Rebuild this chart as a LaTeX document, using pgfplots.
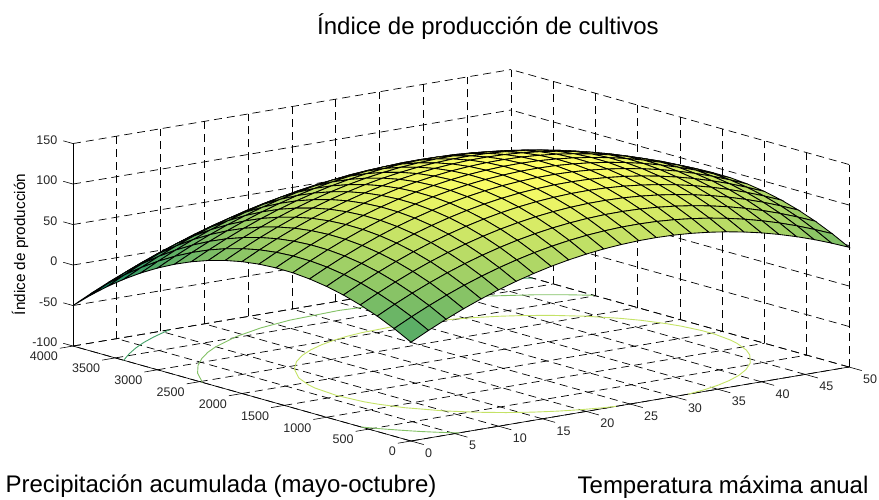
\documentclass[border=0pt]{standalone}
\usepackage{fontspec}
\setmainfont{Liberation Sans}
\usepackage{pgfplots}
\pgfplotsset{compat=1.18}
\definecolor{lvA}{rgb}{0.256,0.628,0.4}
\definecolor{lvB}{rgb}{0.513,0.756,0.4}
\definecolor{lvC}{rgb}{0.77,0.885,0.4}
\begin{document}
\begin{tikzpicture}[x=1pt,y=1pt]
\useasboundingbox (0,0) rectangle (879,499);
\begin{axis}[
  at={(411pt,139pt)},anchor=origin,
  x={(8.76pt,1.48pt)},y={(-0.0845pt,0.02375pt)},z={(0pt,0.81pt)},
  xmin=0,xmax=50,ymin=0,ymax=4000,zmin=-100,zmax=150,
  xtick={0,5,...,50},ytick={0,500,...,4000},ztick={-100,-50,...,150},
  scaled ticks=false,
  /pgf/number format/assume math mode=true,
  /pgf/number format/1000 sep={},
  grid=major,
  grid style={black,line width=0.7pt,dash pattern=on 8pt off 5pt},
  axis line style={draw=none},
  major tick length=0pt,
  tick style={draw=none},
  xtick pos=left,ytick pos=left,ztick pos=left,
  tick label style={font=\fontsize{12.5}{15}\selectfont,inner sep=0pt,text=black!85},
  xticklabel style={anchor=west,xshift=14pt,yshift=-12pt},
  yticklabel style={anchor=east,xshift=-15pt,yshift=-10.5pt},
  zticklabel style={anchor=east,xshift=-15.5pt,yshift=3.5pt},
  colormap={summer}{rgb=(0,0.5,0.4) rgb=(1,1,0.4)},
  point meta min=-30,point meta max=145,
  clip=false,
  unbounded coords=jump,
  title={Índice de producción de cultivos},
  title style={at={(axis cs:8.79,0,388.5)},anchor=center,yshift=0pt,font=\fontsize{24}{28}\selectfont},
  xlabel={Temperatura máxima anual},
  xlabel style={at={(axis cs:35.62,0,-230)},anchor=base,rotate=0,font=\fontsize{24}{28}\selectfont},
  ylabel={Precipitación acumulada (mayo-octubre)},
  ylabel style={at={(axis cs:0,2248,-229.4)},anchor=base,rotate=0,font=\fontsize{24}{28}\selectfont},
  zlabel={Índice de producción},
  zlabel style={at={(axis cs:0,4627,7)},anchor=center,rotate=0,font=\fontsize{15.3}{18}\selectfont},
]
\addplot3[black,line width=0.65pt] coordinates {(0,0,-100)(50,0,-100)};
\addplot3[black,line width=0.65pt] coordinates {(0,0,-100)(0,4000,-100)};
\addplot3[black,line width=0.65pt] coordinates {(0,4000,-100)(0,4000,150)};
% tick marks along the third direction, as on the reference
\addplot3[black,line width=0.6pt] coordinates {(0,0,-100)(0,-150,-100)(nan,nan,nan)(5,0,-100)(5,-150,-100)(nan,nan,nan)(10,0,-100)(10,-150,-100)(nan,nan,nan)(15,0,-100)(15,-150,-100)(nan,nan,nan)(20,0,-100)(20,-150,-100)(nan,nan,nan)(25,0,-100)(25,-150,-100)(nan,nan,nan)(30,0,-100)(30,-150,-100)(nan,nan,nan)(35,0,-100)(35,-150,-100)(nan,nan,nan)(40,0,-100)(40,-150,-100)(nan,nan,nan)(45,0,-100)(45,-150,-100)(nan,nan,nan)(50,0,-100)(50,-150,-100)};
\addplot3[black,line width=0.6pt] coordinates {(0,0,-100)(-1.5,0,-100)(nan,nan,nan)(0,500,-100)(-1.5,500,-100)(nan,nan,nan)(0,1000,-100)(-1.5,1000,-100)(nan,nan,nan)(0,1500,-100)(-1.5,1500,-100)(nan,nan,nan)(0,2000,-100)(-1.5,2000,-100)(nan,nan,nan)(0,2500,-100)(-1.5,2500,-100)(nan,nan,nan)(0,3000,-100)(-1.5,3000,-100)(nan,nan,nan)(0,3500,-100)(-1.5,3500,-100)(nan,nan,nan)(0,4000,-100)(-1.5,4000,-100)};
\addplot3[black,line width=0.6pt] coordinates {(0,4000,-100)(0,4115,-100)(nan,nan,nan)(0,4000,-50)(0,4115,-50)(nan,nan,nan)(0,4000,0)(0,4115,0)(nan,nan,nan)(0,4000,50)(0,4115,50)(nan,nan,nan)(0,4000,100)(0,4115,100)(nan,nan,nan)(0,4000,150)(0,4115,150)};
% contour level 0
\addplot3[lvA,line width=0.9pt] coordinates {(0,3400,-100)(2,3544,-100)(4,3671,-100)(6,3782,-100)(8,3877,-100)(10,3960,-100)(11,4000,-100)};
\addplot3[lvA,line width=0.9pt] coordinates {(44,4000,-100)(46,3950,-100)(48,3860,-100)(50,3745,-100)};
% contour level 50
\addplot3[lvB,line width=0.9pt] coordinates {(0,590,-100)(1,450,-100)(2,330,-100)(3,217,-100)(4,122,-100)(5,37,-100)(5.5,0,-100)};
\addplot3[lvB,line width=0.9pt] coordinates {(0,2468,-100)(2,2733,-100)(4,2935,-100)(6,3098,-100)(8,3235,-100)(10,3347,-100)(14,3522,-100)(18,3643,-100)(22,3717,-100)(28,3755,-100)(34,3702,-100)(38,3618,-100)(42,3483,-100)(46,3293,-100)(48,3170,-100)(50,3022,-100)};
% contour level 100
\addplot3[lvC,line width=0.9pt] coordinates {(23.4,0,-100)(22,24,-100)(20,71,-100)(18,135,-100)(16,218,-100)(14,325,-100)(12,463,-100)(10,644,-100)(8,905,-100)(7,1115,-100)(6.6,1241,-100)(6.25,1531,-100)(6.6,1821,-100)(7,1947,-100)(8,2157,-100)(10,2418,-100)(12,2599,-100)(14,2737,-100)(16,2844,-100)(18,2927,-100)(20,2991,-100)(22,3038,-100)(24,3069,-100)(28,3091,-100)(32,3055,-100)(34,3015,-100)(36,2960,-100)(38,2887,-100)(40,2794,-100)(42,2672,-100)(44,2516,-100)(46,2302,-100)(47,2157,-100)(48,1947,-100)(48.4,1821,-100)(48.75,1611,-100)(48.75,1451,-100)(48.4,1241,-100)(48,1115,-100)(47,905,-100)(46,760,-100)(44,546,-100)(42,390,-100)(40,268,-100)(38,175,-100)(36,102,-100)(34,47,-100)(32,7,-100)(31.6,0,-100)};
\addplot3[surf,shader=faceted,faceted color=black,line width=0.85pt,mesh/rows=21,mesh/cols=26] coordinates {
(0,0,22.0)(2,0,32.9)(4,0,43.0)(6,0,52.3)(8,0,60.8)(10,0,68.4)(12,0,75.2)(14,0,81.2)(16,0,86.4)(18,0,90.7)(20,0,94.2)(22,0,96.9)(24,0,98.7)(26,0,99.8)(28,0,100.0)(30,0,99.4)(32,0,97.9)(34,0,95.6)(36,0,92.5)(38,0,88.6)(40,0,83.9)(42,0,78.3)(44,0,71.9)(46,0,64.7)(48,0,56.6)(50,0,47.8)
(0,200,33.0)(2,200,43.9)(4,200,54.0)(6,200,63.3)(8,200,71.8)(10,200,79.4)(12,200,86.2)(14,200,92.2)(16,200,97.4)(18,200,101.7)(20,200,105.2)(22,200,107.9)(24,200,109.7)(26,200,110.8)(28,200,111.0)(30,200,110.4)(32,200,108.9)(34,200,106.6)(36,200,103.5)(38,200,99.6)(40,200,94.9)(42,200,89.3)(44,200,82.9)(46,200,75.7)(48,200,67.6)(50,200,58.8)
(0,400,42.5)(2,400,53.4)(4,400,63.5)(6,400,72.8)(8,400,81.3)(10,400,88.9)(12,400,95.7)(14,400,101.7)(16,400,106.9)(18,400,111.2)(20,400,114.7)(22,400,117.4)(24,400,119.2)(26,400,120.3)(28,400,120.5)(30,400,119.9)(32,400,118.4)(34,400,116.1)(36,400,113.0)(38,400,109.1)(40,400,104.4)(42,400,98.8)(44,400,92.4)(46,400,85.2)(48,400,77.1)(50,400,68.3)
(0,600,50.4)(2,600,61.3)(4,600,71.4)(6,600,80.7)(8,600,89.2)(10,600,96.8)(12,600,103.6)(14,600,109.6)(16,600,114.8)(18,600,119.1)(20,600,122.6)(22,600,125.3)(24,600,127.1)(26,600,128.2)(28,600,128.4)(30,600,127.8)(32,600,126.3)(34,600,124.0)(36,600,120.9)(38,600,117.0)(40,600,112.3)(42,600,106.7)(44,600,100.3)(46,600,93.1)(48,600,85.0)(50,600,76.2)
(0,800,56.8)(2,800,67.7)(4,800,77.8)(6,800,87.1)(8,800,95.6)(10,800,103.2)(12,800,110.0)(14,800,116.0)(16,800,121.2)(18,800,125.5)(20,800,129.0)(22,800,131.7)(24,800,133.5)(26,800,134.6)(28,800,134.8)(30,800,134.2)(32,800,132.7)(34,800,130.4)(36,800,127.3)(38,800,123.4)(40,800,118.7)(42,800,113.1)(44,800,106.7)(46,800,99.5)(48,800,91.4)(50,800,82.6)
(0,1000,61.6)(2,1000,72.5)(4,1000,82.6)(6,1000,91.9)(8,1000,100.4)(10,1000,108.0)(12,1000,114.8)(14,1000,120.8)(16,1000,126.0)(18,1000,130.3)(20,1000,133.8)(22,1000,136.5)(24,1000,138.3)(26,1000,139.4)(28,1000,139.6)(30,1000,139.0)(32,1000,137.5)(34,1000,135.2)(36,1000,132.1)(38,1000,128.2)(40,1000,123.5)(42,1000,117.9)(44,1000,111.5)(46,1000,104.3)(48,1000,96.2)(50,1000,87.4)
(0,1200,64.9)(2,1200,75.8)(4,1200,85.9)(6,1200,95.2)(8,1200,103.7)(10,1200,111.3)(12,1200,118.1)(14,1200,124.1)(16,1200,129.3)(18,1200,133.6)(20,1200,137.1)(22,1200,139.8)(24,1200,141.6)(26,1200,142.7)(28,1200,142.9)(30,1200,142.3)(32,1200,140.8)(34,1200,138.5)(36,1200,135.4)(38,1200,131.5)(40,1200,126.8)(42,1200,121.2)(44,1200,114.8)(46,1200,107.6)(48,1200,99.5)(50,1200,90.7)
(0,1400,66.7)(2,1400,77.6)(4,1400,87.7)(6,1400,97.0)(8,1400,105.5)(10,1400,113.1)(12,1400,119.9)(14,1400,125.9)(16,1400,131.1)(18,1400,135.4)(20,1400,138.9)(22,1400,141.6)(24,1400,143.4)(26,1400,144.5)(28,1400,144.7)(30,1400,144.1)(32,1400,142.6)(34,1400,140.3)(36,1400,137.2)(38,1400,133.3)(40,1400,128.6)(42,1400,123.0)(44,1400,116.6)(46,1400,109.4)(48,1400,101.3)(50,1400,92.5)
(0,1600,66.9)(2,1600,77.8)(4,1600,87.9)(6,1600,97.2)(8,1600,105.7)(10,1600,113.3)(12,1600,120.1)(14,1600,126.1)(16,1600,131.3)(18,1600,135.6)(20,1600,139.1)(22,1600,141.8)(24,1600,143.6)(26,1600,144.7)(28,1600,144.9)(30,1600,144.3)(32,1600,142.8)(34,1600,140.5)(36,1600,137.4)(38,1600,133.5)(40,1600,128.8)(42,1600,123.2)(44,1600,116.8)(46,1600,109.6)(48,1600,101.5)(50,1600,92.7)
(0,1800,65.6)(2,1800,76.5)(4,1800,86.6)(6,1800,95.9)(8,1800,104.4)(10,1800,112.0)(12,1800,118.8)(14,1800,124.8)(16,1800,130.0)(18,1800,134.3)(20,1800,137.8)(22,1800,140.5)(24,1800,142.3)(26,1800,143.4)(28,1800,143.6)(30,1800,143.0)(32,1800,141.5)(34,1800,139.2)(36,1800,136.1)(38,1800,132.2)(40,1800,127.5)(42,1800,121.9)(44,1800,115.5)(46,1800,108.3)(48,1800,100.2)(50,1800,91.4)
(0,2000,62.8)(2,2000,73.7)(4,2000,83.8)(6,2000,93.1)(8,2000,101.6)(10,2000,109.2)(12,2000,116.0)(14,2000,122.0)(16,2000,127.2)(18,2000,131.5)(20,2000,135.0)(22,2000,137.7)(24,2000,139.5)(26,2000,140.6)(28,2000,140.8)(30,2000,140.2)(32,2000,138.7)(34,2000,136.4)(36,2000,133.3)(38,2000,129.4)(40,2000,124.7)(42,2000,119.1)(44,2000,112.7)(46,2000,105.5)(48,2000,97.4)(50,2000,88.6)
(0,2200,58.4)(2,2200,69.3)(4,2200,79.4)(6,2200,88.7)(8,2200,97.2)(10,2200,104.8)(12,2200,111.6)(14,2200,117.6)(16,2200,122.8)(18,2200,127.1)(20,2200,130.6)(22,2200,133.3)(24,2200,135.1)(26,2200,136.2)(28,2200,136.4)(30,2200,135.8)(32,2200,134.3)(34,2200,132.0)(36,2200,128.9)(38,2200,125.0)(40,2200,120.3)(42,2200,114.7)(44,2200,108.3)(46,2200,101.1)(48,2200,93.0)(50,2200,84.2)
(0,2400,52.5)(2,2400,63.4)(4,2400,73.5)(6,2400,82.8)(8,2400,91.3)(10,2400,98.9)(12,2400,105.7)(14,2400,111.7)(16,2400,116.9)(18,2400,121.2)(20,2400,124.7)(22,2400,127.4)(24,2400,129.2)(26,2400,130.3)(28,2400,130.5)(30,2400,129.9)(32,2400,128.4)(34,2400,126.1)(36,2400,123.0)(38,2400,119.1)(40,2400,114.4)(42,2400,108.8)(44,2400,102.4)(46,2400,95.2)(48,2400,87.1)(50,2400,78.3)
(0,2600,45.1)(2,2600,56.0)(4,2600,66.1)(6,2600,75.4)(8,2600,83.9)(10,2600,91.5)(12,2600,98.3)(14,2600,104.3)(16,2600,109.5)(18,2600,113.8)(20,2600,117.3)(22,2600,120.0)(24,2600,121.8)(26,2600,122.9)(28,2600,123.1)(30,2600,122.5)(32,2600,121.0)(34,2600,118.7)(36,2600,115.6)(38,2600,111.7)(40,2600,107.0)(42,2600,101.4)(44,2600,95.0)(46,2600,87.8)(48,2600,79.7)(50,2600,70.9)
(0,2800,36.1)(2,2800,47.0)(4,2800,57.1)(6,2800,66.4)(8,2800,74.9)(10,2800,82.5)(12,2800,89.3)(14,2800,95.3)(16,2800,100.5)(18,2800,104.8)(20,2800,108.3)(22,2800,111.0)(24,2800,112.8)(26,2800,113.9)(28,2800,114.1)(30,2800,113.5)(32,2800,112.0)(34,2800,109.7)(36,2800,106.6)(38,2800,102.7)(40,2800,98.0)(42,2800,92.4)(44,2800,86.0)(46,2800,78.8)(48,2800,70.7)(50,2800,61.9)
(0,3000,25.6)(2,3000,36.5)(4,3000,46.6)(6,3000,55.9)(8,3000,64.4)(10,3000,72.0)(12,3000,78.8)(14,3000,84.8)(16,3000,90.0)(18,3000,94.3)(20,3000,97.8)(22,3000,100.5)(24,3000,102.3)(26,3000,103.4)(28,3000,103.6)(30,3000,103.0)(32,3000,101.5)(34,3000,99.2)(36,3000,96.1)(38,3000,92.2)(40,3000,87.5)(42,3000,81.9)(44,3000,75.5)(46,3000,68.3)(48,3000,60.2)(50,3000,51.4)
(0,3200,13.6)(2,3200,24.5)(4,3200,34.6)(6,3200,43.9)(8,3200,52.4)(10,3200,60.0)(12,3200,66.8)(14,3200,72.8)(16,3200,78.0)(18,3200,82.3)(20,3200,85.8)(22,3200,88.5)(24,3200,90.3)(26,3200,91.4)(28,3200,91.6)(30,3200,91.0)(32,3200,89.5)(34,3200,87.2)(36,3200,84.1)(38,3200,80.2)(40,3200,75.5)(42,3200,69.9)(44,3200,63.5)(46,3200,56.3)(48,3200,48.2)(50,3200,39.4)
(0,3400,0.0)(2,3400,10.9)(4,3400,21.0)(6,3400,30.3)(8,3400,38.8)(10,3400,46.4)(12,3400,53.2)(14,3400,59.2)(16,3400,64.4)(18,3400,68.7)(20,3400,72.2)(22,3400,74.9)(24,3400,76.7)(26,3400,77.8)(28,3400,78.0)(30,3400,77.4)(32,3400,75.9)(34,3400,73.6)(36,3400,70.5)(38,3400,66.6)(40,3400,61.9)(42,3400,56.3)(44,3400,49.9)(46,3400,42.7)(48,3400,34.6)(50,3400,25.8)
(0,3600,-15.1)(2,3600,-4.2)(4,3600,5.9)(6,3600,15.2)(8,3600,23.7)(10,3600,31.3)(12,3600,38.1)(14,3600,44.1)(16,3600,49.3)(18,3600,53.6)(20,3600,57.1)(22,3600,59.8)(24,3600,61.6)(26,3600,62.7)(28,3600,62.9)(30,3600,62.3)(32,3600,60.8)(34,3600,58.5)(36,3600,55.4)(38,3600,51.5)(40,3600,46.8)(42,3600,41.2)(44,3600,34.8)(46,3600,27.6)(48,3600,19.5)(50,3600,10.7)
(0,3800,-31.8)(2,3800,-20.9)(4,3800,-10.8)(6,3800,-1.5)(8,3800,7.0)(10,3800,14.6)(12,3800,21.4)(14,3800,27.4)(16,3800,32.6)(18,3800,36.9)(20,3800,40.4)(22,3800,43.1)(24,3800,44.9)(26,3800,46.0)(28,3800,46.2)(30,3800,45.6)(32,3800,44.1)(34,3800,41.8)(36,3800,38.7)(38,3800,34.8)(40,3800,30.1)(42,3800,24.5)(44,3800,18.1)(46,3800,10.9)(48,3800,2.8)(50,3800,-6.0)
(0,4000,-50.0)(2,4000,-39.1)(4,4000,-29.0)(6,4000,-19.7)(8,4000,-11.2)(10,4000,-3.6)(12,4000,3.2)(14,4000,9.2)(16,4000,14.4)(18,4000,18.7)(20,4000,22.2)(22,4000,24.9)(24,4000,26.7)(26,4000,27.8)(28,4000,28.0)(30,4000,27.4)(32,4000,25.9)(34,4000,23.6)(36,4000,20.5)(38,4000,16.6)(40,4000,11.9)(42,4000,6.3)(44,4000,-0.1)(46,4000,-7.3)(48,4000,-15.4)(50,4000,-24.2)
};
\end{axis}
\end{tikzpicture}
\end{document}
